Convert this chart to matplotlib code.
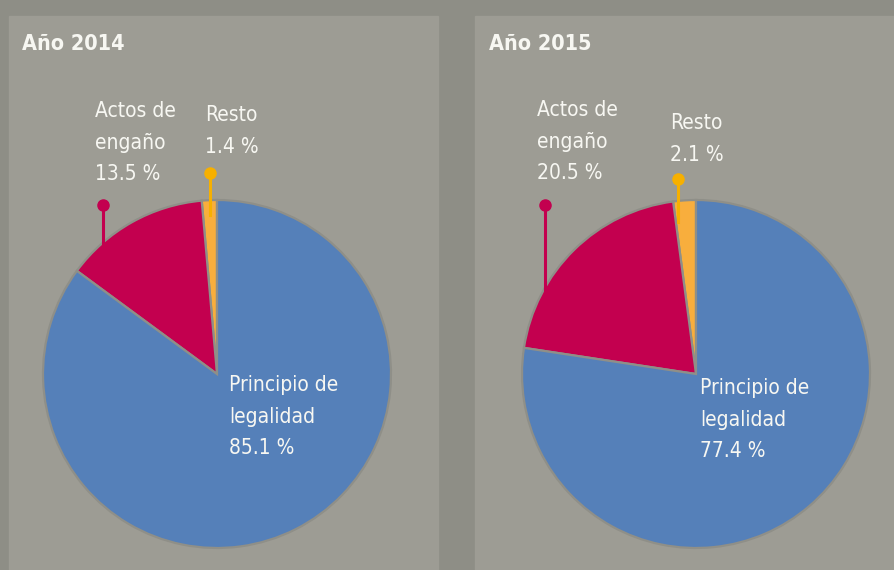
import matplotlib.pyplot as plt
from matplotlib.patches import Rectangle

# shares by year, counterclockwise from the top: Resto, Actos de engaño, Principio de legalidad
years = ["Año 2014", "Año 2015"]
resto = [1.4, 2.1]
enganio = [13.5, 20.5]
legalidad = [85.1, 77.4]

BLUE = "#5580b9"
RED = "#c3004f"
ORANGE = "#f8ae3d"
ORANGE_LINE = "#f7b000"
PANEL = "#9d9c94"
OUTER = "#8e8e86"
TXT = "#f7f7f2"

plt.rcParams["font.family"] = ["DejaVu Sans"]
plt.rcParams["font.stretch"] = "condensed"

W, H = 894, 570
fig = plt.figure(figsize=(W / 100, H / 100), dpi=100)
fig.patch.set_facecolor(OUTER)


def px(x, y):
    return x / W, 1 - y / H


# panel boxes
for x0, x1 in [(9, 438), (475, 900)]:
    fig.patches.append(Rectangle(px(x0, H), (x1 - x0) / W, (H - 16) / H,
                                 transform=fig.transFigure, color=PANEL, zorder=-5))

centers = [(217, 374), (696, 374)]
R = 174
# leader layout: (x, y_dot, y_end) in pixels for red and orange labels
leaders = [
    [(103, 205, 262, RED), (210, 173, 215, ORANGE_LINE)],
    [(545, 205, 292, RED), (678, 179, 222, ORANGE_LINE)],
]
label_pos = [
    {"act": (95, 101), "res": (205, 105), "leg": (229, 375), "title": (22, 44)},
    {"act": (537, 100), "res": (670, 113), "leg": (700, 378), "title": (489, 44)},
]

for i in range(2):
    cx, cy = centers[i]
    ax = fig.add_axes([(cx - R) / W, (H - cy - R) / H, 2 * R / W, 2 * R / H], zorder=1)
    wedges, _ = ax.pie([resto[i], enganio[i], legalidad[i]], colors=[ORANGE, RED, BLUE],
                       startangle=90, counterclock=True, radius=1,
                       wedgeprops=dict(edgecolor="#8f8f88", linewidth=1.6))
    for w in wedges:
        w.set_clip_on(False)
    ax.set_xlim(-1, 1)
    ax.set_ylim(-1, 1)
    ax.set_aspect("equal")
    ax.axis("off")

    for lx, ly0, ly1, col in leaders[i]:
        fig.lines.append(plt.Line2D([px(lx, ly0)[0], px(lx, ly1)[0]],
                                    [px(lx, ly0)[1], px(lx, ly1)[1]],
                                    transform=fig.transFigure, color=col, lw=2.2, zorder=5))
        fig.lines.append(plt.Line2D([px(lx, ly0)[0]], [px(lx, ly0)[1]], marker="o",
                                    markersize=8, color=col, transform=fig.transFigure, zorder=6))

    lp = label_pos[i]
    fig.text(*px(*lp["title"]), years[i], color=TXT, fontsize=15.5, fontweight="bold",
             va="center", ha="left", zorder=7)
    fig.text(*px(*lp["act"]), "Actos de\nengaño\n%.1f %%" % enganio[i], color=TXT,
             fontsize=15, va="top", ha="left", linespacing=1.72, zorder=7)
    fig.text(*px(*lp["res"]), "Resto\n%.1f %%" % resto[i], color=TXT,
             fontsize=15, va="top", ha="left", linespacing=1.72, zorder=7)
    fig.text(*px(*lp["leg"]), "Principio de\nlegalidad\n%.1f %%" % legalidad[i], color=TXT,
             fontsize=15, va="top", ha="left", linespacing=1.72, zorder=7)

fig.savefig("out.png", dpi=100, facecolor=OUTER)
